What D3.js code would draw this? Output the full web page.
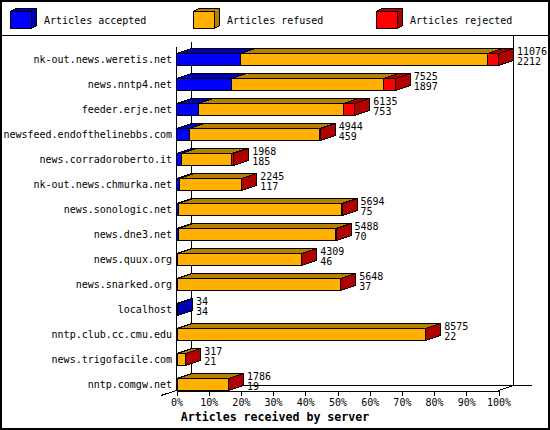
<!DOCTYPE html>
<html>
<head>
<meta charset="utf-8">
<script src="https://cdn.jsdelivr.net/npm/d3@7/dist/d3.min.js"></script>
<style>
  body { margin: 0; background: #fff; }
  svg text { font-family: "DejaVu Sans Mono", "Liberation Mono", monospace; }
</style>
</head>
<body>
<div id="chart"></div>
<script>
// Servers feeding articles, one bar each
const servers = [
    "nk-out.news.weretis.net", "news.nntp4.net", "feeder.erje.net",
    "newsfeed.endofthelinebbs.com", "news.corradoroberto.it", "nk-out.news.chmurka.net",
    "news.sonologic.net", "news.dne3.net", "news.quux.org", "news.snarked.org",
    "localhost", "nntp.club.cc.cmu.edu", "news.trigofacile.com", "nntp.comgw.net"
];
const accepted = [2212, 1897, 753, 459, 185, 117, 75, 70, 46, 37, 34, 22, 21, 19];
const refused  = [8474, 5228, 5004, 4477, 1703, 2120, 5613, 5412, 4258, 5605, 0, 8546, 293, 1762];
const rejected = [390, 400, 378, 8, 80, 8, 6, 6, 5, 6, 0, 7, 3, 5];
const seriesNames = ["Articles accepted", "Articles refused", "Articles rejected"];
const tickPercents = [0, 10, 20, 30, 40, 50, 60, 70, 80, 90, 100];

const fronts = ["#0000ff", "#ffb000", "#ff0000"];
const shades = ["#0000b0", "#b88000", "#b00000"];

const width = 550, height = 430;
const depthX = 15, depthY = 5, barH = 12;

const svg = d3.select("#chart").append("svg")
    .attr("width", width).attr("height", height)
    .attr("shape-rendering", "crispEdges");

svg.append("rect").attr("x", 1).attr("y", 1)
    .attr("width", width - 2).attr("height", height - 2)
    .attr("fill", "#fff").attr("stroke", "#000").attr("stroke-width", 2);

// Legend strip
svg.append("line").attr("x1", 0).attr("x2", width).attr("y1", 35.5).attr("y2", 35.5).attr("stroke", "#000");

seriesNames.forEach((name, i) => {
    const lx = 10.5 + 183 * i, ly = 11.5, lw = 21, lh = 17;
    const g = svg.append("g");
    g.append("polygon")
        .attr("points", [[lx, ly], [lx + 5, ly - 3], [lx + lw + 5, ly - 3], [lx + lw + 5, ly + lh - 3], [lx + lw, ly + lh], [lx + lw, ly]].join(" "))
        .attr("fill", shades[i]).attr("stroke", "#000");
    g.append("rect").attr("x", lx).attr("y", ly).attr("width", lw).attr("height", lh)
        .attr("fill", fronts[i]).attr("stroke", "#000");
    g.append("text").attr("x", 44 + 183 * i).attr("y", 24)
        .attr("font-size", "10px").text(name);
});

// Scales
const totals = servers.map((s, i) => accepted[i] + refused[i] + rejected[i]);
const maxTotal = d3.max(totals);
const x = d3.scaleLinear().domain([0, 100]).range([176, 498]);
const pct = v => v / maxTotal * 100;
const y = d3.scalePoint().domain(servers).range([59, 384]);

// Walls and floor
const frame = svg.append("g").attr("stroke", "#000").attr("fill", "none");
frame.append("line").attr("x1", 191.5).attr("x2", 191.5).attr("y1", 42).attr("y2", 385.5);
frame.append("line").attr("x1", 513.5).attr("x2", 513.5).attr("y1", 36).attr("y2", 385.5);
frame.append("line").attr("x1", 191).attr("x2", 532).attr("y1", 385.5).attr("y2", 385.5);
frame.append("line").attr("x1", 176.5).attr("x2", 176.5).attr("y1", 47).attr("y2", 390.5);
frame.append("line").attr("x1", 161).attr("y1", 395.5).attr("x2", 191.5).attr("y2", 385.5);
frame.append("line").attr("x1", 498.5).attr("y1", 390.5).attr("x2", 513.5).attr("y2", 385.5);

// Stacked 3D bars
const stackData = servers.map((s, i) => ({ server: s, accepted: accepted[i], refused: refused[i], rejected: rejected[i] }));
const keys = ["accepted", "refused", "rejected"];
const stacked = d3.stack().keys(keys)(stackData);

servers.forEach((s, i) => {
    const yc = Math.round(y(s));
    const yTop = yc - barH / 2 + 0.5, yBot = yc + barH / 2 + 0.5;
    const g = svg.append("g");
    stacked.forEach((layer, k) => {
        const d = layer[i];
        if (d[1] - d[0] <= 0) return;
        const x0 = Math.round(x(pct(d[0]))) + 0.5, x1 = Math.round(x(pct(d[1]))) + 0.5;
        g.append("polygon")
            .attr("points", [[x0, yTop], [x0 + depthX, yTop - depthY], [x1 + depthX, yTop - depthY], [x1, yTop]].join(" "))
            .attr("fill", shades[k]).attr("stroke", "#000");
        g.append("polygon")
            .attr("points", [[x1, yTop], [x1 + depthX, yTop - depthY], [x1 + depthX, yBot - depthY], [x1, yBot]].join(" "))
            .attr("fill", shades[k]).attr("stroke", "#000");
        g.append("rect").attr("x", x0).attr("y", yTop)
            .attr("width", Math.max(0, x1 - x0)).attr("height", barH)
            .attr("fill", fronts[k]).attr("stroke", "#000");
    });
    const lx = x(pct(totals[i])) + 19;
    g.append("text").attr("x", lx).attr("y", yc - 4.5).attr("font-size", "10px").text(totals[i]);
    g.append("text").attr("x", lx).attr("y", yc + 5.5).attr("font-size", "10px").text(accepted[i]);
});

// Server names
svg.append("g").selectAll("text").data(servers).join("text")
    .attr("x", 172).attr("y", d => Math.round(y(d)) + 4)
    .attr("text-anchor", "end").attr("font-size", "10px")
    .text(d => d);

// Percent axis
const axis = svg.append("g").attr("transform", "translate(0.5,390.5)")
    .call(d3.axisBottom(x).tickValues(tickPercents).tickFormat(d => d + "%").tickSize(5).tickSizeOuter(0));
axis.selectAll("text").attr("font-size", "10px").attr("font-family", "DejaVu Sans Mono").attr("fill", "#000");
axis.selectAll("line, path").attr("stroke", "#000");

svg.append("text").attr("x", 275).attr("y", 421).attr("text-anchor", "middle")
    .attr("font-size", "11.6px").attr("font-weight", "bold")
    .text("Articles received by server");
</script>
</body>
</html>
